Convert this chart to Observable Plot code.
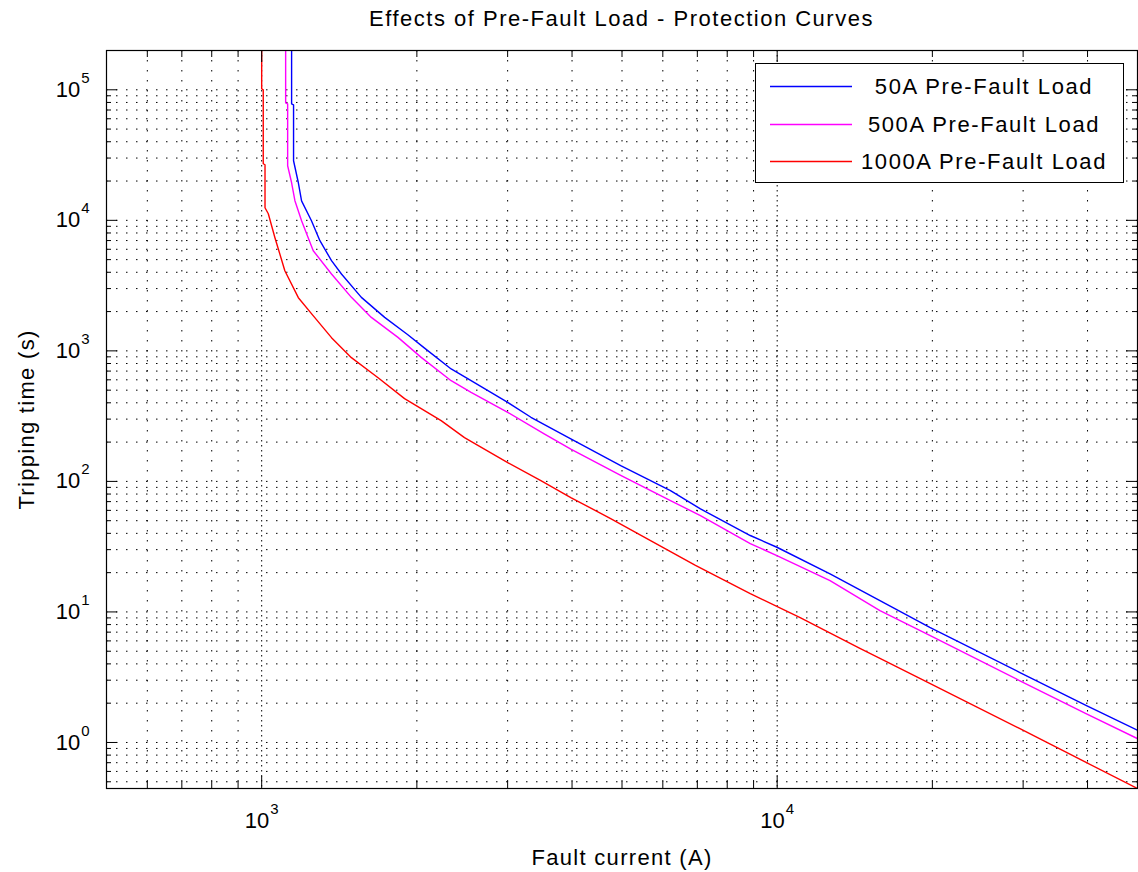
<!DOCTYPE html>
<html>
<head>
<meta charset="utf-8">
<script src="https://cdn.jsdelivr.net/npm/d3@7"></script>
<script src="https://cdn.jsdelivr.net/npm/@observablehq/plot@0.6"></script>
<style>
  body { margin: 0; background: #fff; }
  #wrap { position: relative; width: 1138px; height: 872px; font-family: "Liberation Sans", Arial, sans-serif; color: #000; }
  #title { position: absolute; left: 106px; width: 1031px; top: 6px; text-align: center; font-size: 22px; letter-spacing: 1.5px; white-space: nowrap; }
  #legend { position: absolute; left: 755px; top: 63px; width: 367px; height: 118px; border: 1px solid #000; background: #fff; }
  #legend svg { position: absolute; left: 0; top: 0; }
  .lg-text { position: absolute; left: 228px; transform: translate(-50%, -50%); font-size: 22px; letter-spacing: 1.6px; white-space: nowrap; }
</style>
</head>
<body>
<div id="wrap">
  <div id="chart"></div>
  <div id="title">Effects of Pre-Fault Load - Protection Curves</div>
  <div id="legend"></div>
</div>
<script>
// ---- data ----
const seriesNames = ["50A Pre-Fault Load", "500A Pre-Fault Load", "1000A Pre-Fault Load"];

const current50 = [1143, 1143, 1153, 1153, 1178, 1195, 1249, 1297, 1366, 1428,
  1561, 1732, 1921, 2070, 2331, 2548, 3001, 3329, 3978, 4971,
  6209, 7098, 8867, 9987, 12663, 15825, 19770, 29510, 39720, 50000];
const time50 = [200000, 78100, 76800, 28600, 19400, 14100, 9930, 6980, 4910, 3880,
  2570, 1805, 1330, 1050, 727, 591, 403, 310, 212, 132,
  85, 61.6, 38.5, 31.3, 19.6, 12.2, 7.63, 3.45, 1.92, 1.24];

const current500 = [1113, 1113, 1123, 1123, 1143, 1160, 1195, 1259, 1366, 1493, 1632,
  1838, 2039, 2331, 2548, 3001, 3532, 3978, 4971, 6209, 7098,
  8867, 9987, 12663, 15825, 19770, 29510, 39720, 50000];
const time500 = [200000, 79500, 78100, 26200, 19400, 14130, 9930, 5850, 3880, 2570, 1805,
  1269, 892, 591, 481, 338, 231, 177, 111, 71.3, 54.7,
  33.4, 27.0, 17.4, 10.25, 6.60, 2.98, 1.66, 1.07];

const current1000 = [1000, 1000, 1007, 1007, 1015, 1015, 1030, 1061, 1109, 1178,
  1249, 1366, 1493, 1682, 1893, 2039, 2229, 2474, 3001, 3480,
  3978, 4753, 5680, 6942, 8867, 11080, 14470, 15825, 19770, 29510,
  39740, 50000];
const time1000 = [200000, 101800, 100000, 27130, 26650, 12490, 11230, 7360, 4113, 2555,
  1927, 1262, 887, 623, 430.5, 360.9, 292.1, 216.4, 139.3, 101.4,
  75.2, 51.9, 35.2, 22.7, 13.83, 9.06, 5.25, 4.40, 2.83, 1.28,
  0.703, 0.444];

const xDomain = [500, 50000];
const yDomain = [0.444, 200000];
const xMajorTicks = [1000, 10000];
const xMinorTicks = [600, 700, 800, 900, 2000, 3000, 4000, 5000, 6000, 7000, 8000, 9000, 20000, 30000, 40000];
const yMajorTicks = [1, 10, 100, 1000, 10000, 100000];
const yMinorTicks = [0.5, 0.6, 0.7, 0.8, 0.9,
  2, 3, 4, 5, 6, 7, 8, 9,
  20, 30, 40, 50, 60, 70, 80, 90,
  200, 300, 400, 500, 600, 700, 800, 900,
  2000, 3000, 4000, 5000, 6000, 7000, 8000, 9000,
  20000, 30000, 40000, 50000, 60000, 70000, 80000, 90000];

// ---- build ----
const colors = ["#0000ff", "#ff00ff", "#ff0000"];
const currents = [current50, current500, current1000];
const times = [time50, time500, time1000];
const rows = [];
seriesNames.forEach((name, i) => {
  currents[i].forEach((c, j) => rows.push({series: name, current: c, time: times[i][j]}));
});

const W = 1138, H = 872, mL = 106, mR = 1, mT = 50, mB = 84;
const plotW = W - mL - mR, plotH = H - mT - mB;
const dots = "1.5,8.5";

const chart = Plot.plot({
  width: W, height: H,
  marginLeft: mL, marginRight: mR, marginTop: mT, marginBottom: mB,
  style: {fontFamily: '"Liberation Sans", Arial, sans-serif', background: "#fff", color: "#000"},
  x: {type: "log", domain: xDomain},
  y: {type: "log", domain: yDomain},
  color: {domain: seriesNames, range: colors},
  marks: [
    Plot.ruleX(xMinorTicks, {stroke: "#000", strokeWidth: 1, strokeDasharray: dots}),
    Plot.ruleX(xMajorTicks, {stroke: "#000", strokeWidth: 1, strokeDasharray: "1.5,3.5"}),
    Plot.ruleY([...yMinorTicks, ...yMajorTicks], {stroke: "#000", strokeWidth: 1, strokeDasharray: dots}),
    Plot.line(rows, {x: "current", y: "time", z: "series", stroke: "series", strokeWidth: 1.4, clip: true}),
    // inward ticks on all four sides
    Plot.ruleX(xMajorTicks, {insetTop: plotH - 12, stroke: "#000"}),
    Plot.ruleX(xMajorTicks, {insetBottom: plotH - 12, stroke: "#000"}),
    Plot.ruleX(xMinorTicks, {insetTop: plotH - 7, stroke: "#000"}),
    Plot.ruleX(xMinorTicks, {insetBottom: plotH - 7, stroke: "#000"}),
    Plot.ruleY(yMajorTicks, {insetRight: plotW - 11, stroke: "#000"}),
    Plot.ruleY(yMajorTicks, {insetLeft: plotW - 11, stroke: "#000"}),
    Plot.ruleY(yMinorTicks, {insetRight: plotW - 5, stroke: "#000"}),
    Plot.ruleY(yMinorTicks, {insetLeft: plotW - 5, stroke: "#000"}),
    Plot.frame({stroke: "#000", strokeWidth: 1.2}),
    Plot.axisX({ticks: xMajorTicks, tickSize: 0, tickPadding: 24, fontSize: 22,
      tickFormat: d => "10^" + Math.round(Math.log10(d)),
      label: "Fault current (A)", labelAnchor: "center", labelOffset: 76, labelArrow: false}),
    Plot.axisY({ticks: yMajorTicks, tickSize: 0, tickPadding: 17, fontSize: 22,
      tickFormat: d => "10^" + Math.round(Math.log10(d)),
      label: "Tripping time (s)", labelAnchor: "center", labelOffset: 88, labelArrow: false})
  ]
});
document.getElementById("chart").appendChild(chart);

// superscript exponents on tick labels
const svgNS = "http://www.w3.org/2000/svg";
chart.querySelectorAll('g[aria-label$="tick label"] text').forEach(t => {
  const m = t.textContent.match(/^10\^(-?\d+)$/);
  if (!m) return;
  t.textContent = "10";
  const ts = document.createElementNS(svgNS, "tspan");
  ts.setAttribute("dy", "-14");
  ts.setAttribute("dx", "1");
  ts.setAttribute("font-size", "15");
  ts.textContent = m[1];
  t.appendChild(ts);
});
chart.querySelectorAll('g[aria-label$="axis label"] text').forEach(t => {
  t.setAttribute("letter-spacing", "1.3");
});

// legend
const legend = document.getElementById("legend");
const rowY = [22, 60, 97];
const lsvg = d3.create("svg").attr("width", 367).attr("height", 118);
seriesNames.forEach((name, i) => {
  lsvg.append("line")
    .attr("x1", 14).attr("x2", 96)
    .attr("y1", rowY[i] + 0.5).attr("y2", rowY[i] + 0.5)
    .attr("stroke", colors[i]).attr("stroke-width", 1.5);
  const tx = document.createElement("div");
  tx.className = "lg-text";
  tx.style.top = (rowY[i] + 1) + "px";
  tx.textContent = name;
  legend.appendChild(tx);
});
legend.appendChild(lsvg.node());
</script>
</body>
</html>
